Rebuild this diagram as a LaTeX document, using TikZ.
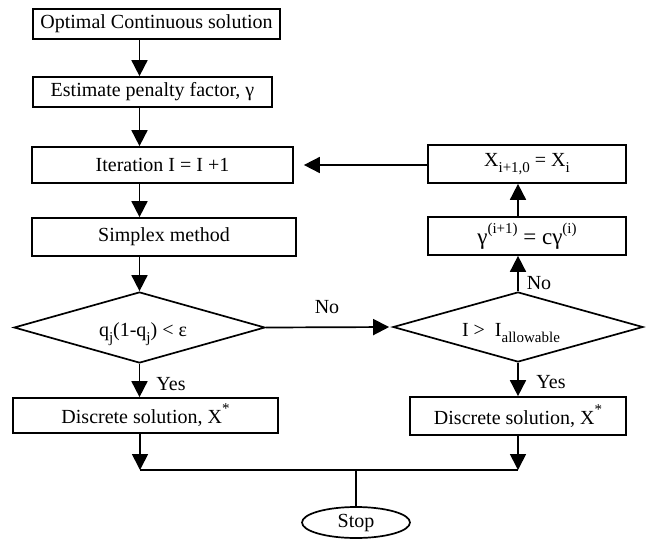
\documentclass[tikz,border=0pt]{standalone}
\usepackage{fontspec}
\setmainfont{Liberation Serif}
\usetikzlibrary{arrows.meta,shapes.geometric}
\newcommand\mysub[1]{\raisebox{-0.32em}{\fontsize{15}{15}\selectfont #1}}
\newcommand\mysup[1]{\raisebox{0.5em}{\fontsize{15}{15}\selectfont #1}}
\begin{document}
\begin{tikzpicture}[x=1pt,y=-1pt,
  box/.style={draw, line width=1.7pt, inner sep=0pt, font=\fontsize{20}{22}\selectfont},
  dia/.style={draw, diamond, line width=1.7pt, inner sep=0pt},
  arr/.style={line width=1.7pt, -{Triangle[length=16pt,width=16pt]}},
  ln/.style={line width=1.7pt},
  lbl/.style={font=\fontsize{20}{22}\selectfont, inner sep=0pt}]
\useasboundingbox (0,0) rectangle (648,539);
% left column
\node[box, minimum width=247pt, minimum height=30pt] (b1) at (156.5,24) {Optimal Continuous solution};
\node[box, minimum width=239pt, minimum height=30pt] (b2) at (152.5,92) {Estimate penalty factor, γ};
\node[box, minimum width=261pt, minimum height=36pt] (it) at (162.5,165) {Iteration I = I +1};
\node[box, minimum width=264pt, minimum height=38pt] (sx) at (164,237) {Simplex method};
\node[dia, minimum width=251pt, minimum height=71pt] (d1) at (139.5,327.5) {};
\node[lbl] (t1) at (143,334) {q\mysub{j}(1-q\mysub{j}) < ε};
\node[box, minimum width=265pt, minimum height=35pt] (dl) at (145.5,415.5) {Discrete solution, X\mysup{*}};
% right column
\node[box, minimum width=198pt, minimum height=38pt] (xb) at (527,164) {X\mysub{i+1,0} = X\mysub{i}};
\node[box, minimum width=198pt, minimum height=38pt, font=\fontsize{23}{26}\selectfont] (gb) at (527,236) {γ\mysup{(i+1)} = cγ\mysup{(i)}};
\node[dia, minimum width=250pt, minimum height=70pt] (d2) at (518,327) {};
\node[lbl] (t2) at (511,333) {I >\enspace I\mysub{allowable}};
\node[box, minimum width=216pt, minimum height=38pt] (dr) at (518,416) {Discrete solution, X\mysup{*}};
% stop
\node[draw, ellipse, line width=1.7pt, inner sep=0pt, minimum width=108pt, minimum height=31pt, font=\fontsize{20}{22}\selectfont] (stop) at (356,522.5) {Stop};
\coordinate (mL) at (140,470);
\coordinate (mR) at (518,470);
\coordinate (mC) at (356,470);
% connectors
\draw[arr] (b1.south -| d1.north) -- (b2.north -| d1.north);
\draw[arr] (b2.south -| d1.north) -- (it.north -| d1.north);
\draw[arr] (it.south -| d1.north) -- (sx.north -| d1.north);
\draw[arr] (sx.south -| d1.north) -- (d1.north);
\draw[arr] (d1.south) -- (dl.north -| d1.south);
\draw[arr, shorten >=3pt] (d1.east) -- (d2.west);
\draw[arr] (d2.north) -- (gb.south -| d2.north);
\draw[arr] (gb.north -| d2.north) -- (xb.south -| d2.north);
\draw[arr, shorten >=10pt] (xb.west |- it.east) -- (it.east);
\draw[arr] (d2.south) -- (dr.north -| d2.south);
\draw[arr] (dl.south -| mL) -- (mL);
\draw[arr] (dr.south -| mR) -- (mR);
\draw[ln] (mL) -- (mR);
\draw[ln] (mC) -- (stop.north);
% labels
\node[lbl] (no1) at (327,307) {No};
\node[lbl] (no2) at (539,283) {No};
\node[lbl] (yes1) at (171,384) {Yes};
\node[lbl] (yes2) at (551,382) {Yes};
\end{tikzpicture}
\end{document}
